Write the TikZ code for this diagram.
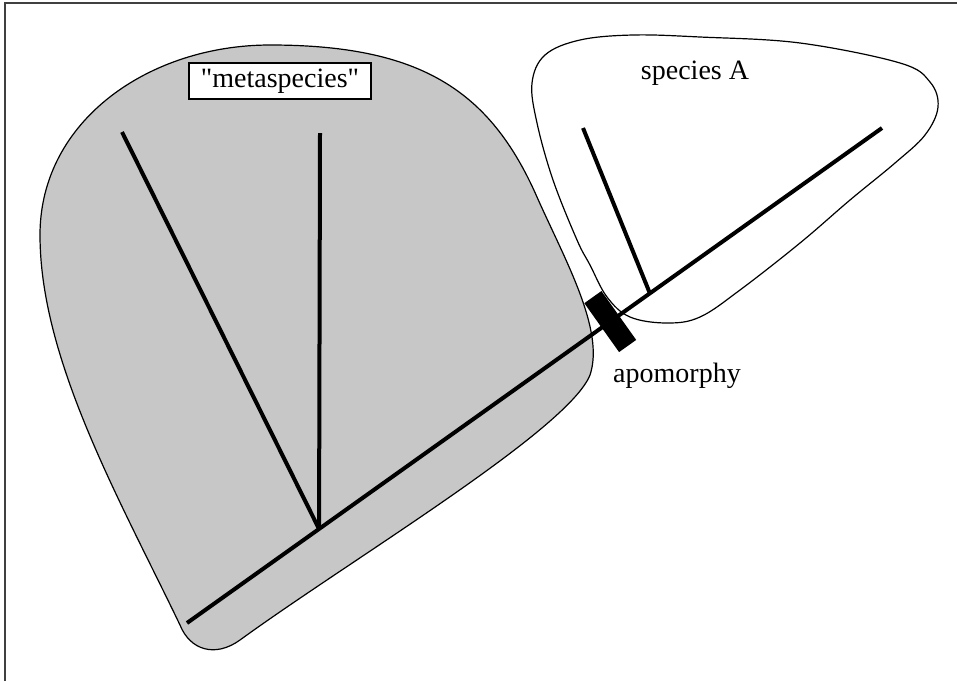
\documentclass[tikz,border=0pt]{standalone}
\usepackage{fontspec}
\setmainfont{Liberation Serif}
\usetikzlibrary{calc,positioning}
\tikzset{branch/.style={line width=2pt},
  outline/.style={line width=0.6pt},
  lbl/.style={font=\fontsize{14}{17}\selectfont,inner sep=2pt},
  apo/.style={fill=black,minimum width=10.5pt,minimum height=30pt,inner sep=0pt}}

\begin{document}
\begin{tikzpicture}[x=0.5pt,y=-0.5pt]
\useasboundingbox (0,0) rectangle (957,681);
% frame
\draw[line width=0.8pt,black!75] (5,681) -- (5,3) -- (957,3);
% metaspecies region
\draw[outline,fill=black!22] (240,640) .. controls (215,658) and (190,650) .. (180,625)
  .. controls (120,500) and (40,360) .. (40,235) .. controls (40,120) and (150,45) .. (270,45)
  .. controls (420,45) and (490,90) .. (537,197) .. controls (565,260) and (605,330) .. (590,375)
  .. controls (568,430) and (350,560) .. cycle;
% species A region
\draw[outline] plot[smooth cycle,tension=0.6] coordinates {(532,83) (545,55) (580,40) (633,35) (700,37) (800,43) (900,63) (930,82) (938,107) (925,135) (895,163) (850,200) (800,243) (740,290) (700,317) (667,323) (630,317) (607,297) (590,265) (577,240) (553,180) (537,123)};
% tree
\coordinate (root) at (187,623); \coordinate (tipA) at (882,128);
\coordinate (jM) at ($(root)!0.19!(tipA)$); \coordinate (jA) at ($(root)!0.666!(tipA)$);
\coordinate (leafL) at (122,132); \coordinate (leafV) at (320,133); \coordinate (leafA) at (583,128);
\draw[branch] (root) -- (tipA);
\draw[branch] (jM) -- (leafL); \draw[branch] (jM) -- (leafV);
\draw[branch] (jA) -- (leafA);
\node[apo,rotate=35.4] (apo) at ($(root)!0.609!(tipA)$) {};
% labels
\node[lbl,draw,fill=white,line width=0.6pt,minimum width=91pt,minimum height=18pt] (meta) at (280,81) {\textquotedbl metaspecies\textquotedbl};
\node[lbl] (spA) at (695,73) {species A};
\node[lbl] (apoLbl) at (677,376) {apomorphy};
\end{tikzpicture}
\end{document}
